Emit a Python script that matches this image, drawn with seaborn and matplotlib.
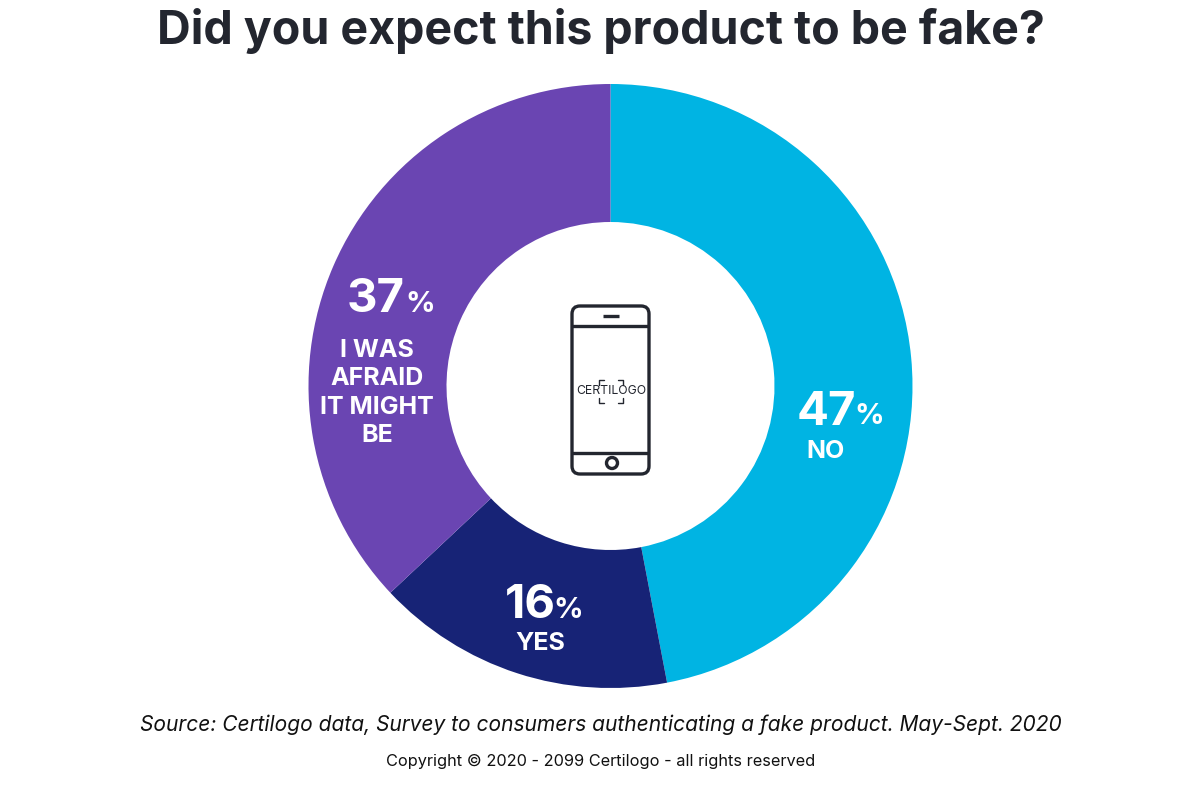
import seaborn as sns
import matplotlib.pyplot as plt
from matplotlib.patches import FancyBboxPatch, Circle

# Survey values
categories = ['NO', 'YES', 'I WAS\nAFRAID\nIT MIGHT\nBE']
values = [47, 16, 37]
colors = ['#00B4E3', '#172376', '#6A45B2']

title = 'Did you expect this product to be fake?'
source = 'Source: Certilogo data, Survey to consumers authenticating a fake product. May-Sept. 2020'
copyright_text = 'Copyright © 2020 - 2099 Certilogo - all rights reserved'

sns.set_theme(style='white')
plt.rcParams['font.family'] = ['Inter', 'DejaVu Sans']

W, H = 1201, 787
fig = plt.figure(figsize=(W / 100, H / 100), dpi=100)

# Donut, sized to the same pixels as the original
ax = fig.add_axes([(610.5 - 302) / W, 1 - (386 + 302) / H, 604 / W, 604 / H])
ax.pie(values, colors=sns.color_palette(colors), startangle=90, counterclock=False,
       radius=1, wedgeprops=dict(width=138 / 302, linewidth=0))
ax.set_xlim(-1, 1)
ax.set_ylim(-1, 1)
ax.axis('off')

# Overlay in pixel coordinates for text and phone icon
ov = fig.add_axes([0, 0, 1, 1])
ov.set_xlim(0, W)
ov.set_ylim(H, 0)
ov.axis('off')
ov.patch.set_alpha(0)

ink = '#23262F'
ov.text(601, 31, title, ha='center', va='center', fontsize=33.5, fontweight='bold', color=ink)
ov.text(601, 725, source, ha='center', va='center', fontsize=15.1, style='italic', color='#111111')
ov.text(600.5, 761, copyright_text, ha='center', va='center', fontsize=11.75, color='#111111')

# number, percent sign and category label for each slice
label_pos = [
    (826, 413, 869, 416, 826, 451),
    (530, 606, 568, 610, 540, 644),
    (376, 300, 420, 304, 377, 393),
]
for val, cat, (nx, ny, px, py, lx, ly) in zip(values, categories, label_pos):
    ov.text(nx, ny, str(val), ha='center', va='center', fontsize=34, fontweight='bold', color='white')
    ov.text(px, py, '%', ha='center', va='center', fontsize=21, fontweight='bold', color='white')
    ov.text(lx, ly, cat, ha='center', va='center', fontsize=18, fontweight='bold', color='white',
            linespacing=1.28)

# Phone icon
lw = 2.4
ov.add_patch(FancyBboxPatch((572, 306), 77, 168, boxstyle='round,pad=0,rounding_size=8',
                            fill=False, ec=ink, lw=lw))
ov.plot([572, 649], [326, 326], color=ink, lw=lw, solid_capstyle='butt')
ov.plot([572, 649], [453, 453], color=ink, lw=lw, solid_capstyle='butt')
ov.plot([603, 619], [316, 316], color=ink, lw=lw, solid_capstyle='butt')
ov.add_patch(Circle((612, 463), 5.5, fill=False, ec=ink, lw=lw))
ov.text(611, 391, 'CERTILOGO', ha='center', va='center', fontsize=8.8, color=ink)
# viewfinder corners
for cx, cy, dx, dy in [(599, 380, 1, 1), (623, 380, -1, 1), (599, 403, 1, -1), (623, 403, -1, -1)]:
    ov.plot([cx + 5 * dx, cx, cx], [cy, cy, cy + 5 * dy], color=ink, lw=1.0)

fig.savefig('out.png', dpi=100, facecolor='white')
